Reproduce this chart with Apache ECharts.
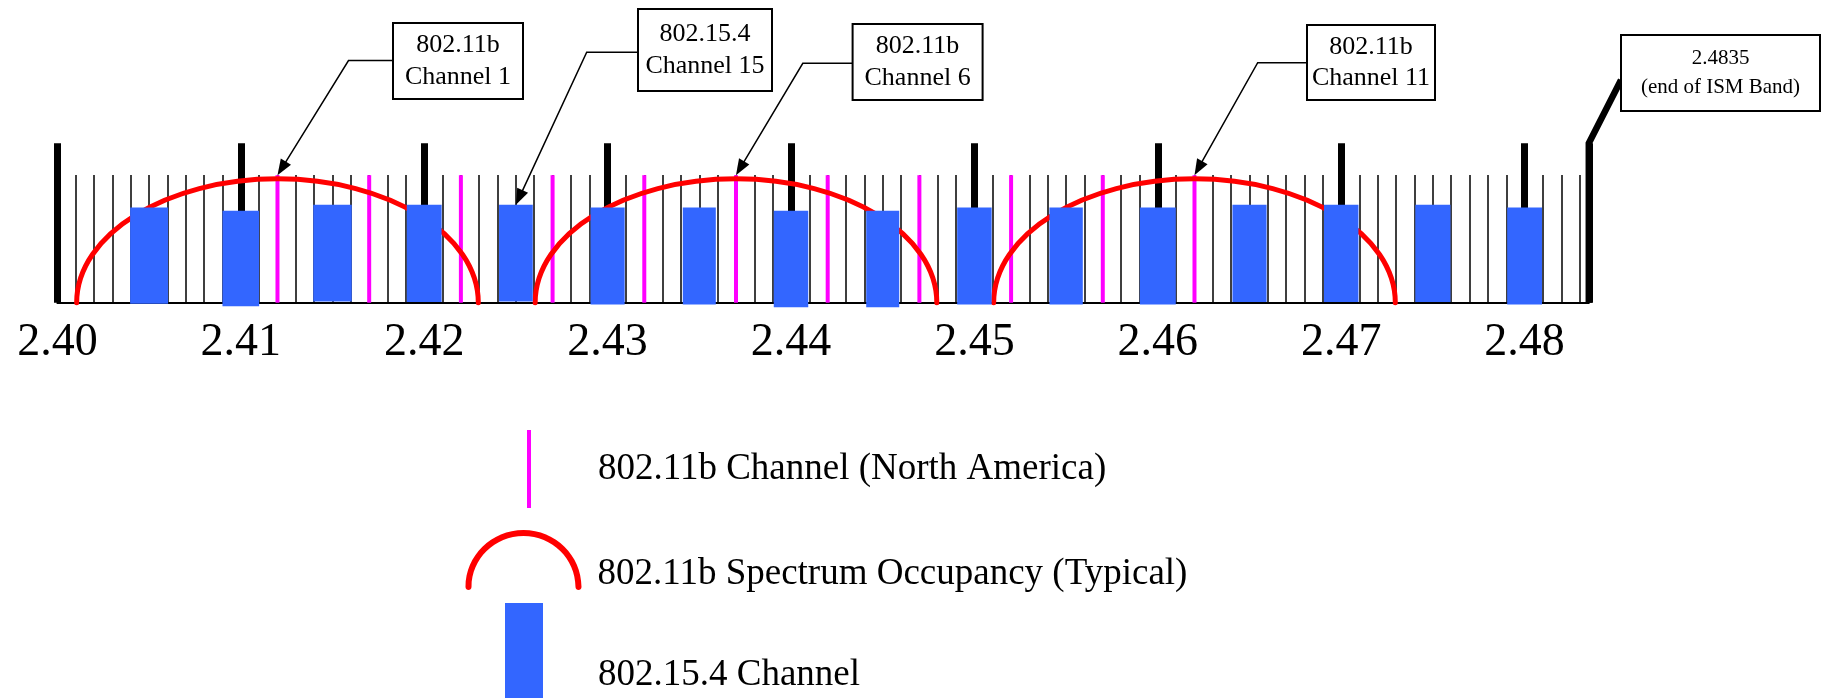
<!DOCTYPE html>
<html>
<head>
<meta charset="utf-8">
<script src="https://cdn.jsdelivr.net/npm/echarts@6/dist/echarts.min.js"></script>
<style>
html,body{margin:0;padding:0;background:#fff;}
#chart{width:1822px;height:698px;}
</style>
</head>
<body>
<div id="chart"></div>
<script>
// ---------- DATA ----------
// Frequency axis, MHz
const bandStart = 2400;
const bandEnd = 2483.5;           // end of ISM band
const tickLabels = ['2.40','2.41','2.42','2.43','2.44','2.45','2.46','2.47','2.48'];

// 802.11b channels (North America): centre frequency (MHz), drawn line height (arb. units)
const wifiChannels = [1,2,3,4,5,6,7,8,9,10,11];
const wifiCenters = [2412,2417,2422,2427,2432,2437,2442,2447,2452,2457,2462];
const wifiLevel = [8,8,8,8,8,8,8,8,8,8,8];

// 802.11b spectrum occupancy (typical): centre, occupied width (MHz), peak level
const occupancyCenters = [2412, 2437, 2462];
const occupancyWidths = [21.9, 21.9, 21.9];
const occupancyPeaks = [7.77, 7.77, 7.77];

// 802.15.4 channels 11..26: centre (MHz), width (MHz), top and bottom level
const zigbeeChannels = [11,12,13,14,15,16,17,18,19,20,21,22,23,24,25,26];
const zigbeeCenters = [2405,2410,2415,2420,2425,2430,2435,2440,2445,2450,2455,2460,2465,2470,2475,2480];
const zigbeeWidths = [2.07,2.0,2.1,1.9,1.84,1.86,1.8,1.88,1.8,1.88,1.82,1.96,1.86,1.88,1.92,1.9];
const zigbeeTops = [5.97,5.77,6.14,6.14,6.14,5.97,5.97,5.77,5.77,5.97,5.97,5.97,6.14,6.14,6.14,5.97];
const zigbeeBottoms = [-0.06,-0.23,0.08,0.04,0.08,-0.11,-0.11,-0.29,-0.29,-0.11,-0.11,-0.11,0.04,0.04,0.04,-0.11];

// Callouts: text, target frequency (MHz), target level
const calloutTexts = ['802.11b\nChannel 1','802.15.4\nChannel 15','802.11b\nChannel 6','802.11b\nChannel 11','2.4835\n(end of ISM Band)'];
const calloutFreqs = [2412, 2425, 2437, 2462, 2483.5];
const calloutLevels = [8, 6.14, 8, 8, 10];

// Series names
const nameWifi = '802.11b Channel (North America)';
const nameOcc = '802.11b Spectrum Occupancy (Typical)';
const nameZig = '802.15.4 Channel';

// ---------- LAYOUT / STYLE ----------
const FONT = '"Liberation Serif", "Times New Roman", serif';
const calloutLayout = [
  {box:[393,23,130,76],  knee:[348.5,60.5], font:26, lh:31.5, lw:1.5, arrow:true},
  {box:[638,9,134,82],   knee:[586.7,52.3], font:26, lh:31.5, lw:1.5, arrow:true},
  {box:[852.6,24,130,76],knee:[802.8,63.3], font:26, lh:31.5, lw:1.5, arrow:true},
  {box:[1307,25,128,75], knee:[1257.7,62.7],font:26, lh:31.5, lw:1.5, arrow:true},
  {box:[1621,35,199,76], joinY:80, font:21, lh:29, lw:6.5, arrow:false, toBase:true}
];

function renderArc(params, api) {
  const c = api.value(0), w = api.value(1), h = api.value(2);
  const L = api.coord([c - w / 2, 0]);
  const R = api.coord([c + w / 2, 0]);
  const T = api.coord([c, h]);
  const rx = (R[0] - L[0]) / 2, ry = L[1] - T[1];
  const k = 0.5523, cx = T[0], cy = L[1];
  const d = 'M' + L[0] + ' ' + cy +
    ' C' + L[0] + ' ' + (cy - k * ry) + ' ' + (cx - k * rx) + ' ' + T[1] + ' ' + cx + ' ' + T[1] +
    ' C' + (cx + k * rx) + ' ' + T[1] + ' ' + R[0] + ' ' + (cy - k * ry) + ' ' + R[0] + ' ' + cy;
  return {type:'path', shape:{pathData:d}, style:{fill:'none', stroke:'#ff0000', lineWidth:5, lineCap:'round'}};
}

function renderZigbee(params, api) {
  const c = api.value(0), w = api.value(1), top = api.value(2), bot = api.value(3);
  const p1 = api.coord([c - w / 2, top]);
  const p2 = api.coord([c + w / 2, bot]);
  return {type:'rect', shape:{x:p1[0], y:p1[1], width:p2[0]-p1[0], height:p2[1]-p1[1]}, style:{fill:'#3366ff'}};
}

function renderCallout(params, api) {
  const i = params.dataIndex;
  const Lo = calloutLayout[i];
  const tip = api.coord([api.value(0), api.value(1)]);
  const [bx, by, bw, bh] = Lo.box;
  const children = [];
  let pts;
  if (Lo.knee) pts = [[bx, Lo.knee[1]], Lo.knee.slice(), tip.slice()];
  else pts = [[bx, Lo.joinY], tip.slice()];
  if (Lo.toBase) pts.push(api.coord([api.value(0), 0]));
  if (Lo.arrow) {
    const prev = pts[pts.length - 2];
    const dx = tip[0] - prev[0], dy = tip[1] - prev[1];
    const len = Math.hypot(dx, dy), ux = dx / len, uy = dy / len;
    const al = 16, aw = 6;
    const bpx = tip[0] - ux * al, bpy = tip[1] - uy * al;
    pts[pts.length - 1] = [tip[0] - ux * (al - 2), tip[1] - uy * (al - 2)];
    children.push({type:'polyline', shape:{points:pts}, style:{stroke:'#000', lineWidth:Lo.lw, fill:'none'}});
    children.push({type:'polygon', shape:{points:[tip, [bpx - uy * aw, bpy + ux * aw], [bpx + uy * aw, bpy - ux * aw]]}, style:{fill:'#000'}});
  } else {
    children.push({type:'polyline', shape:{points:pts}, style:{stroke:'#000', lineWidth:Lo.lw, fill:'none', lineJoin:'miter'}});
  }
  children.push({type:'rect', shape:{x:bx, y:by, width:bw, height:bh}, style:{fill:'#fff', stroke:'#000', lineWidth:2}});
  children.push({type:'text', style:{text:calloutTexts[i], x:bx + bw / 2, y:by + bh / 2, align:'center', verticalAlign:'middle',
    fontSize:Lo.font, fontFamily:FONT, lineHeight:Lo.lh, fill:'#000'}});
  return {type:'group', children};
}

const chart = echarts.init(document.getElementById('chart'), null, {renderer:'canvas'});
const legendText = {color:'#000', fontSize:37, fontFamily:FONT};
const arcIcon = 'path://M0 57C0 25.52 25.97 0 58 0C90.03 0 116 25.52 116 57C116 61 110 61 110 57C110 28.83 86.72 6 58 6C29.28 6 6 28.83 6 57C6 61 0 61 0 57ZM58 88L58 88';

chart.setOption({
  animation:false,
  backgroundColor:'#fff',
  grid:{left:57.4, right:233.2, top:143.3, bottom:395.3, containLabel:false, outerBoundsMode:'none'},
  xAxis:{
    type:'value', min:bandStart, max:bandEnd, interval:10, position:'bottom',
    axisLine:{show:true, onZero:false, lineStyle:{color:'#000', width:2}},
    axisTick:{show:true, inside:true, length:159.4, lineStyle:{color:'#000', width:7}},
    minorTick:{show:true, splitNumber:10, length:127.7, lineStyle:{color:'#000', width:1.5}},
    splitLine:{show:false}, minorSplitLine:{show:false},
    axisLabel:{show:true, margin:17, color:'#000', fontSize:46, fontFamily:FONT, showMinLabel:true,
      formatter:function(v){ const k = Math.round((v - bandStart) / 10); return (Math.abs(v - bandStart - k * 10) < 1e-6 && tickLabels[k]) ? tickLabels[k] : ''; }}
  },
  yAxis:{type:'value', min:0, max:10, show:false, splitLine:{show:false}},
  legend:[
    {left:527, top:430, padding:0, itemWidth:128, itemHeight:78, selectedMode:false, textStyle:legendText,
     data:[{name:nameWifi, icon:'path://M0 0L4 0L4 78L0 78Z', itemStyle:{color:'#ff00ff', borderWidth:0}}]},
    {left:465.5, top:530, padding:0, itemWidth:138, itemHeight:88, selectedMode:false, textStyle:legendText,
     data:[{name:nameOcc, icon:arcIcon, itemStyle:{color:'#ff0000', borderWidth:0}}]},
    {left:505, top:603, padding:0, itemWidth:138, itemHeight:144, selectedMode:false, textStyle:legendText,
     data:[{name:nameZig, icon:'path://M0 0L38 0L38 144L0 144Z', itemStyle:{color:'#3366ff', borderWidth:0}}]}
  ],
  series:[
    {name:nameWifi, type:'bar', z:2, barWidth:4, itemStyle:{color:'#ff00ff'}, silent:true,
     data:wifiCenters.map((c, i) => [c, wifiLevel[i]])},
    {name:nameOcc, type:'custom', z:3, silent:true, itemStyle:{color:'#ff0000'}, renderItem:renderArc,
     encode:{x:0, y:2},
     data:occupancyCenters.map((c, i) => [c, occupancyWidths[i], occupancyPeaks[i]])},
    {name:nameZig, type:'custom', z:4, silent:true, itemStyle:{color:'#3366ff'}, renderItem:renderZigbee,
     encode:{x:0, y:2},
     data:zigbeeCenters.map((c, i) => [c, zigbeeWidths[i], zigbeeTops[i], zigbeeBottoms[i]])},
    {name:'callouts', type:'custom', z:5, silent:true, renderItem:renderCallout,
     encode:{x:0, y:1},
     data:calloutFreqs.map((f, i) => [f, calloutLevels[i]])}
  ]
});
</script>
</body>
</html>
